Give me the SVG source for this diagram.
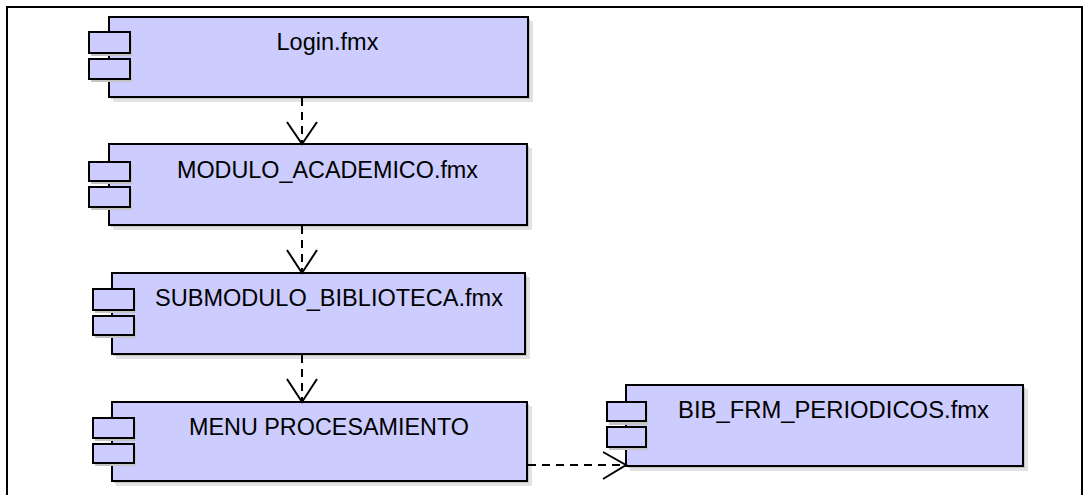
<svg xmlns="http://www.w3.org/2000/svg" width="1088" height="495" viewBox="0 0 1088 495">
<style>
.frame{fill:#fff;stroke:#000;stroke-width:2}
.box{fill:#ccccff;stroke:#000;stroke-width:2}
.sh1{fill:#e2e2e2}
.sh2{fill:#c4c4c4}
.lbl{font-family:"Liberation Sans",Arial,sans-serif;font-size:23.5px;fill:#000;text-anchor:middle}
.dep{fill:none;stroke:#000;stroke-width:2;stroke-dasharray:8 6}
.head{fill:none;stroke:#000;stroke-width:2}
</style>
<rect x="0" y="0" width="1088" height="495" fill="#fff"/>
<rect class="frame" x="7" y="7" width="1075" height="500"/>

<g id="login">
<rect class="sh1" x="113" y="21" width="420" height="81"/>
<rect class="sh2" x="111" y="19" width="419" height="80"/>
<rect class="box" x="109" y="17" width="419" height="80"/>
<rect class="sh2" x="91" y="35" width="41" height="21"/>
<rect class="sh2" x="91" y="61" width="41" height="21"/>
<rect class="box" x="89" y="32" width="41" height="21"/>
<rect class="box" x="89" y="59" width="41" height="20"/>
<text class="lbl" x="327.5" y="50">Login.fmx</text>
</g>

<g id="modulo_academico">
<rect class="sh1" x="113" y="148" width="419" height="82"/>
<rect class="sh2" x="111" y="146" width="418" height="81"/>
<rect class="box" x="109" y="144" width="418" height="81"/>
<rect class="sh2" x="91" y="164" width="41" height="20"/>
<rect class="sh2" x="91" y="189" width="41" height="21"/>
<rect class="box" x="89" y="162" width="41" height="19"/>
<rect class="box" x="89" y="187" width="41" height="20"/>
<text class="lbl" x="327.5" y="178" textLength="301" lengthAdjust="spacingAndGlyphs">MODULO_ACADEMICO.fmx</text>
</g>

<g id="submodulo_biblioteca">
<rect class="sh1" x="116" y="277" width="414" height="82"/>
<rect class="sh2" x="114" y="275" width="413" height="81"/>
<rect class="box" x="112" y="273" width="413" height="81"/>
<rect class="sh2" x="95" y="291" width="41" height="22"/>
<rect class="sh2" x="95" y="318" width="41" height="20"/>
<rect class="box" x="93" y="289" width="41" height="21"/>
<rect class="box" x="93" y="316" width="41" height="19"/>
<text class="lbl" x="329" y="306" textLength="348" lengthAdjust="spacingAndGlyphs">SUBMODULO_BIBLIOTECA.fmx</text>
</g>

<g id="menu_procesamiento">
<rect class="sh1" x="116" y="406" width="416" height="80"/>
<rect class="sh2" x="114" y="404" width="415" height="79"/>
<rect class="box" x="112" y="402" width="415" height="79"/>
<rect class="sh2" x="95" y="420" width="41" height="21"/>
<rect class="sh2" x="95" y="446" width="41" height="20"/>
<rect class="box" x="93" y="418" width="41" height="20"/>
<rect class="box" x="93" y="444" width="41" height="19"/>
<text class="lbl" x="329" y="435" textLength="280" lengthAdjust="spacingAndGlyphs">MENU PROCESAMIENTO</text>
</g>

<g id="bib_frm_periodicos">
<rect class="sh1" x="630" y="389" width="398" height="82"/>
<rect class="sh2" x="628" y="387" width="397" height="81"/>
<rect class="box" x="626" y="385" width="397" height="81"/>
<rect class="sh2" x="609" y="404" width="39" height="21"/>
<rect class="sh2" x="609" y="429" width="39" height="21"/>
<rect class="box" x="607" y="402" width="39" height="19"/>
<rect class="box" x="607" y="427" width="39" height="20"/>
<text class="lbl" x="833.5" y="418" textLength="311" lengthAdjust="spacingAndGlyphs">BIB_FRM_PERIODICOS.fmx</text>
</g>

<g id="connectors">
<line class="dep" x1="302" y1="98" x2="302" y2="143"/>
<polyline class="head" points="287,122 302,144 317,122"/>
<line class="dep" x1="302" y1="226" x2="302" y2="272"/>
<polyline class="head" points="287,250 302,273 317,250"/>
<line class="dep" x1="302" y1="355" x2="302" y2="401"/>
<polyline class="head" points="287,379 302,402 317,379"/>
<line class="dep" x1="528" y1="465" x2="625" y2="465"/>
<polyline class="head" points="603,452 626,465 603,479"/>
</g>
</svg>
